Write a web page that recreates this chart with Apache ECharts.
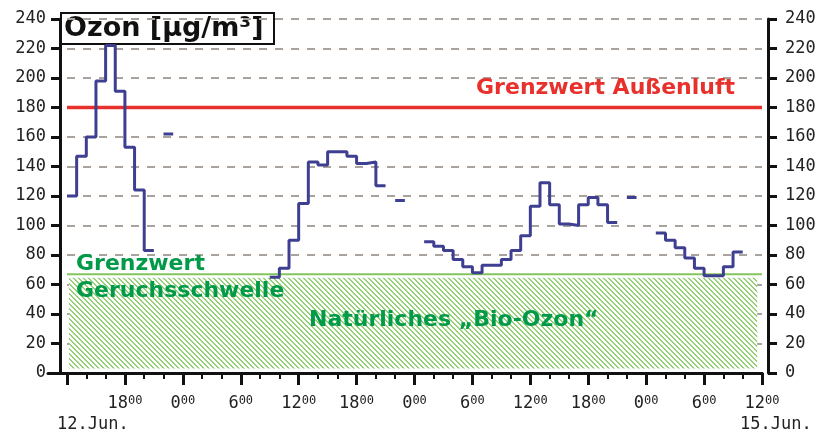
<!DOCTYPE html>
<html>
<head>
<meta charset="utf-8">
<script src="https://cdn.jsdelivr.net/npm/echarts@6/dist/echarts.min.js"></script>
<style>
  html, body { margin: 0; padding: 0; background: #fff; }
  #chart { width: 834px; height: 435px; }
</style>
</head>
<body>
<div id="chart"></div>
<script>
// Ozon-Stundenmittel ab 12.06. 12:00 (Stunde 12), je ein Wert pro Stunde
var startHour = 12
var ozon = [
  120, 147, 160, 198, 222, 191, 153, 124, 83, null, 162,
  null, null, null, null, null, null, null, null, null, null,
  65, 71, 90, 115, 143, 141, 150, 150, 147, 142, 143, 127, null, 117,
  null, null,
  89, 86, 83, 77, 72, 68, 73, 73, 77, 83, 93, 113, 129, 114, 101, 100, 114, 119, 114, 102,
  null, 119, null, null,
  95, 90, 85, 78, 71, 66, 66, 72, 82
]
var xRange = [12, 84]          // Stunden ab 12.06. 0:00
var yRange = [0, 240]
var grenzAussen = 180
var grenzGeruch = 67
var bioZone = [3, 64.5]        // schraffierter Bereich (µg/m³)
var bioZoneX = [12.2, 83.5]
var dateLabels = ['12.Jun.', '15.Jun.']

var monoFont = '"DejaVu Sans Mono", monospace'
var boldFont = '"DejaVu Sans", sans-serif'

// Stufenlinie: jede Stunde als waagrechtes Stück
var steps = []
for (var i = 0; i < ozon.length; i++) {
  var h = startHour + i
  if (ozon[i] === null) {
    steps.push([h, '-'])
  } else {
    steps.push([h, ozon[i]])
    steps.push([h + 1, ozon[i]])
  }
}

// Schraffur
var hatch = document.createElement('canvas')
hatch.width = 5
hatch.height = 5
var ctx = hatch.getContext('2d')
ctx.fillStyle = '#ffffff'
ctx.fillRect(0, 0, 5, 5)
ctx.fillStyle = '#96d178'
for (var y = 0; y < 5; y++) {
  for (var x = 0; x < 5; x++) {
    if ((x - y + 10) % 5 < 2) ctx.fillRect(x, y, 1, 1)
  }
}

var myChart = echarts.init(document.getElementById('chart'))

var tickLabel = {
  fontFamily: monoFont,
  fontSize: 17,
  color: '#222'
}

var option = {
  animation: false,
  backgroundColor: '#fff',
  grid: [
    { left: 67, right: 72, top: 19, bottom: 62, outerBoundsMode: 'none' },
    { left: 48, right: 72, top: 19, bottom: 62, outerBoundsMode: 'none' }
  ],
  xAxis: [
    {
      type: 'value',
      gridIndex: 0,
      min: xRange[0],
      max: xRange[1],
      interval: 6,
      axisLine: { show: true, onZero: false, lineStyle: { color: '#111', width: 3 } },
      axisTick: { show: true, length: 12, lineStyle: { color: '#111', width: 3 } },
      minorTick: { show: true, splitNumber: 3, length: 6, lineStyle: { color: '#111', width: 2 } },
      splitLine: { show: false },
      minorSplitLine: { show: false },
      axisLabel: Object.assign({
        margin: 22,
        showMinLabel: true,
        showMaxLabel: true,
        formatter: function (v) {
          if (v === xRange[0]) return ''
          return '{h|' + (v % 24) + '}{m|00}'
        },
        rich: {
          h: { fontFamily: monoFont, fontSize: 17, color: '#222' },
          m: { fontFamily: monoFont, fontSize: 12, color: '#222', verticalAlign: 'top', lineHeight: 12 }
        }
      }, tickLabel)
    },
    {
      type: 'value',
      gridIndex: 1,
      min: 0,
      max: 1,
      axisLine: { show: true, onZero: false, lineStyle: { color: '#111', width: 3 } },
      axisTick: { show: false },
      axisLabel: { show: false },
      splitLine: { show: false }
    }
  ],
  yAxis: [
    {
      type: 'value',
      gridIndex: 0,
      position: 'left',
      offset: 7,
      min: yRange[0],
      max: yRange[1],
      interval: 20,
      axisLine: { show: true, lineStyle: { color: '#111', width: 3 } },
      axisTick: { show: true, length: 9, lineStyle: { color: '#111', width: 3 } },
      axisLabel: Object.assign({ margin: 14, showMinLabel: true, showMaxLabel: true }, tickLabel),
      splitLine: { show: true, lineStyle: { type: [8, 8], color: '#aaa29c', width: 2 } }
    },
    {
      type: 'value',
      gridIndex: 0,
      position: 'right',
      offset: 6,
      min: yRange[0],
      max: yRange[1],
      interval: 20,
      axisLine: { show: true, lineStyle: { color: '#111', width: 3 } },
      axisTick: { show: true, length: 9, lineStyle: { color: '#111', width: 3 } },
      axisLabel: Object.assign({ margin: 17, showMinLabel: true, showMaxLabel: true }, tickLabel),
      splitLine: { show: false }
    },
    {
      type: 'value',
      gridIndex: 1,
      min: 0,
      max: 1,
      show: false
    }
  ],
  series: [
    {
      name: 'Geruchsschwelle',
      type: 'line',
      xAxisIndex: 0,
      yAxisIndex: 0,
      data: [[xRange[0], grenzGeruch], [xRange[1], grenzGeruch]],
      showSymbol: false,
      silent: true,
      lineStyle: { color: '#84c45c', width: 2 },
      z: 3,
      markArea: {
        silent: true,
        itemStyle: { color: { image: hatch, repeat: 'repeat' }, opacity: 1, borderWidth: 0 },
        data: [[{ coord: [bioZoneX[0], bioZone[0]] }, { coord: [bioZoneX[1], bioZone[1]] }]]
      }
    },
    {
      name: 'Außenluft',
      type: 'line',
      xAxisIndex: 0,
      yAxisIndex: 0,
      data: [[xRange[0], grenzAussen], [xRange[1], grenzAussen]],
      showSymbol: false,
      silent: true,
      lineStyle: { color: '#e8312c', width: 3.5 },
      z: 4
    },
    {
      name: 'Ozon',
      type: 'line',
      xAxisIndex: 0,
      yAxisIndex: 0,
      data: steps,
      showSymbol: false,
      connectNulls: false,
      lineStyle: { color: '#3e3f90', width: 3 },
      z: 5
    }
  ],
  graphic: [
    {
      type: 'group',
      z: 100,
      children: [
        { type: 'rect', shape: { x: 61, y: 13, width: 213, height: 31 }, style: { fill: '#fff', stroke: '#111', lineWidth: 2 } },
        { type: 'text', style: { x: 64, y: 29, text: 'Ozon [µg/m³]', font: 'bold 27px ' + boldFont, fill: '#111', verticalAlign: 'middle' } }
      ]
    },
    { type: 'text', z: 100, style: { x: 735, y: 88, text: 'Grenzwert Außenluft', font: 'bold 22px ' + boldFont, fill: '#e8312c', align: 'right', verticalAlign: 'middle' } },
    { type: 'text', z: 100, style: { x: 76, y: 264, text: 'Grenzwert', font: 'bold 22px ' + boldFont, fill: '#009a48', verticalAlign: 'middle' } },
    { type: 'text', z: 100, style: { x: 76, y: 291, text: 'Geruchsschwelle', font: 'bold 22px ' + boldFont, fill: '#009a48', verticalAlign: 'middle' } },
    { type: 'text', z: 100, style: { x: 309, y: 320, text: 'Natürliches „Bio-Ozon“', font: 'bold 22px ' + boldFont, fill: '#009a48', verticalAlign: 'middle' } },
    { type: 'text', z: 100, style: { x: 57, y: 425, text: dateLabels[0], font: '17px ' + monoFont, fill: '#222', verticalAlign: 'middle' } },
    { type: 'text', z: 100, style: { x: 740, y: 425, text: dateLabels[1], font: '17px ' + monoFont, fill: '#222', verticalAlign: 'middle' } }
  ]
}

option && myChart.setOption(option)
</script>
</body>
</html>
